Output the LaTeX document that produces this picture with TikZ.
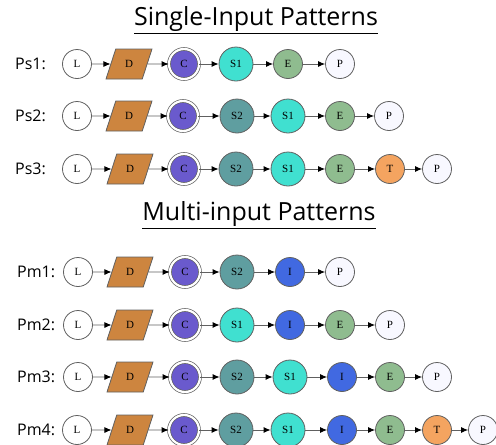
\documentclass[tikz,border=0pt]{standalone}
\usepackage{fontspec}
\setmainfont{Open Sans}
\newfontfamily\nodefont{Liberation Serif}
\usetikzlibrary{shapes.geometric,arrows.meta}
\definecolor{edgegray}{HTML}{606060}
\definecolor{cD}{HTML}{CD853F}
\definecolor{cC}{HTML}{6A5ACD}
\definecolor{cSa}{HTML}{40E0D0}
\definecolor{cSb}{HTML}{5F9EA0}
\definecolor{cE}{HTML}{8FBC8F}
\definecolor{cP}{HTML}{F8F8FF}
\definecolor{cT}{HTML}{F4A460}
\definecolor{cI}{HTML}{4169E1}
\tikzset{
  base/.style={draw=edgegray, line width=0.8pt, inner sep=0pt, font=\nodefont\fontsize{11}{13}\selectfont},
  circ/.style={base, circle, minimum size=29pt},
  nL/.style={circ, fill=white},
  nD/.style={base, trapezium, trapezium left angle=68, trapezium right angle=112, trapezium stretches=true, minimum width=46pt, minimum height=30pt, fill=cD},
  nC/.style={base, circle, minimum size=30pt, fill=cC, double=white, double distance=2.2pt, line width=0.7pt},
  nS1/.style={base, circle, minimum size=34pt, fill=cSa},
  nS2/.style={base, circle, minimum size=34pt, fill=cSb},
  nE/.style={circ, fill=cE},
  nP/.style={circ, fill=cP},
  nT/.style={circ, fill=cT},
  nI/.style={circ, fill=cI},
  arr/.style={draw=edgegray, line width=0.9pt, -{Latex[length=7pt,width=6pt,black]}},
  rowlab/.style={anchor=west, inner sep=0pt, font=\fontsize{16}{18}\selectfont},
  ttl/.style={inner sep=0pt, font=\fontsize{25}{28}\selectfont}
}
\begin{document}
\begin{tikzpicture}[x=1pt,y=-1pt]
\useasboundingbox (0,0) rectangle (496,445);
\clip (0,0) rectangle (496,445);
\node[ttl] (t1) at (256,20) {\underline{Single-Input Patterns}};
\node[ttl] (t2) at (259,215) {\underline{Multi-input Patterns}};
\foreach \r/\y/\lx/\lab/\seq in {
  ps1/64/15/Ps1:/{L/77,D/129,C/184,S1/236,E/288,P/340},
  ps2/116/15/Ps2:/{L/77,D/129,C/183,S2/237,S1/288,E/340,P/389},
  ps3/169/15/Ps3:/{L/77,D/130,C/184,S2/236,S1/288,E/340,T/390,P/437},
  pm1/272/17/Pm1:/{L/78,D/130,C/185,S2/237,I/290,P/340},
  pm2/325/17/Pm2:/{L/78,D/130,C/185,S1/237,I/290,E/340,P/390},
  pm3/377/17/Pm3:/{L/78,D/130,C/185,S2/237,S1/290,I/342,E/390,P/437},
  pm4/430/17/Pm4:/{L/77,D/130,C/184,S2/236,S1/288,I/342,E/390,T/437,P/483}}
{
  \node[rowlab] (\r-lab) at (\lx,\y) {\lab};
  \foreach \t/\x [count=\i] in \seq {
    \node[n\t] (\r-\i) at (\x,\y) {\t};
    \ifnum\i>1
      \pgfmathtruncatemacro\j{\i-1}
      \draw[arr] (\r-\j) -- (\r-\i);
    \fi
  }
}
\end{tikzpicture}
\end{document}
